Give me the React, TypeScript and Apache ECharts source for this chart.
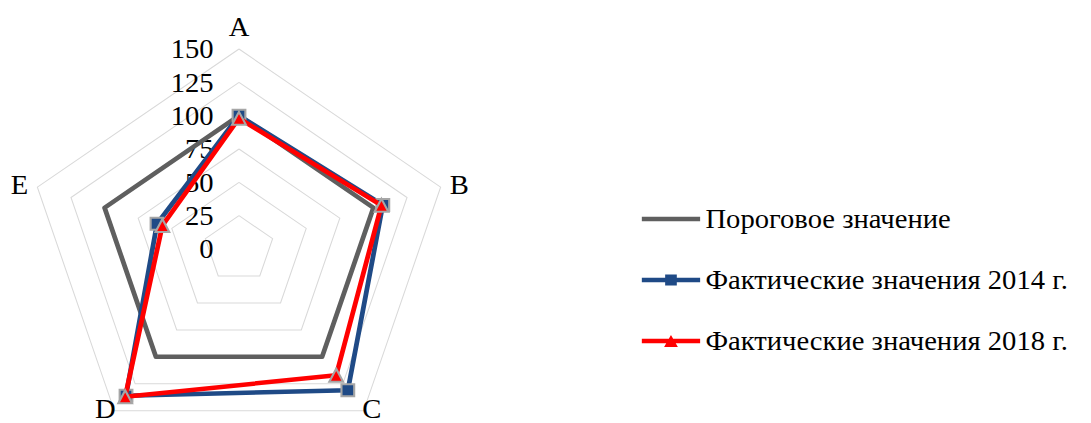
import React, { useEffect, useRef } from "react";
import * as echarts from "echarts";

const categories = ["A", "B", "C", "D", "E"];
const axisTicks = [0, 25, 50, 75, 100, 125, 150];
const seriesNames = [
  "Пороговое значение",
  "Фактические значения 2014 г.",
  "Фактические значения 2018 г.",
];
const thresholdValues = [100, 100, 100, 100, 100];
const values2014 = [100, 107, 131, 136, 61];
const values2018 = [98, 106, 117, 137, 57];

const STRETCH = 1.06;
const W = 1091 / STRETCH;
const H = 423;
const FONT = "'Liberation Serif', 'Times New Roman', serif";

// ECharts places radar indicators counter-clockwise; reorder so A→B→C→D→E runs clockwise.
const ORDER = [0, 4, 3, 2, 1];
const reorder = (arr: number[]) => ORDER.map((i) => arr[i]);

const LINE_ICON = "path://M0,0 L0.01,0 M0,14 L0.01,14 M0,4.8 L55,4.8 L55,9.2 L0,9.2 Z";
const SQUARE_ICON =
  "path://M0,0 L0.01,0 M0,14 L0.01,14 M0,4.8 L55,4.8 L55,9.2 L0,9.2 Z M22,1.5 L33,1.5 L33,12.5 L22,12.5 Z";
const TRIANGLE_ICON =
  "path://M0,0 L0.01,0 M0,14 L0.01,14 M0,4.8 L55,4.8 L55,9.2 L0,9.2 Z M21,13 L27.5,1 L34,13 Z";

export default function App() {
  const ref = useRef<HTMLDivElement>(null);
  useEffect(() => {
    if (!ref.current) return;
    const chart = echarts.init(ref.current, null, { renderer: "svg" });
    const maxV = axisTicks[axisTicks.length - 1];
    chart.setOption({
      animation: false,
      backgroundColor: "#ffffff",
      legend: {
        orient: "vertical",
        left: 600.5,
        top: 200.5,
        itemWidth: 55,
        itemHeight: 14,
        itemGap: 34,
        textStyle: { fontFamily: FONT, fontSize: 27, color: "#000" },
        data: [
          { name: seriesNames[0], icon: LINE_ICON, itemStyle: { borderWidth: 0 } },
          { name: seriesNames[1], icon: SQUARE_ICON, itemStyle: { borderWidth: 0 } },
          { name: seriesNames[2], icon: TRIANGLE_ICON, itemStyle: { borderWidth: 0 } },
        ],
      },
      radar: {
        center: [239 / STRETCH, 249],
        radius: 200,
        startAngle: 90,
        shape: "polygon",
        splitNumber: axisTicks.length - 1,
        nameGap: 9,
        axisName: { color: "#000", fontFamily: FONT, fontSize: 27 },
        axisLine: { show: false },
        axisTick: { show: false },
        splitArea: { show: false },
        splitLine: { lineStyle: { color: "#d9d9d9", width: 1 } },
        axisLabel: { show: false },
        indicator: ORDER.map((i) => ({
          name: categories[i],
          min: 0,
          max: maxV,
          ...(i === 2 || i === 3
            ? { nameGap: -2, nameTextStyle: { lineHeight: 18 } }
            : {}),
          ...(i === 0
            ? {
                axisLabel: {
                  show: true,
                  margin: 24,
                  color: "#000",
                  fontFamily: FONT,
                  fontSize: 27,
                  showMinLabel: true,
                  showMaxLabel: true,
                },
              }
            : {}),
        })),
      },
      series: [
        {
          name: seriesNames[0],
          type: "radar",
          symbol: "none",
          lineStyle: { color: "#5f5f5f", width: 4.5 },
          itemStyle: { color: "#5f5f5f" },
          data: [{ name: seriesNames[0], value: reorder(thresholdValues) }],
          z: 2,
        },
        {
          name: seriesNames[1],
          type: "radar",
          symbol: "rect",
          symbolSize: 12,
          lineStyle: { color: "#1f4a86", width: 4.5 },
          itemStyle: { color: "#1f4a86", borderColor: "#a6a6a6", borderWidth: 2 },
          data: [{ name: seriesNames[1], value: reorder(values2014) }],
          z: 3,
        },
        {
          name: seriesNames[2],
          type: "radar",
          symbol: "triangle",
          symbolSize: 13,
          lineStyle: { color: "#ff0000", width: 4.5 },
          itemStyle: { color: "#ff0000", borderColor: "#a6a6a6", borderWidth: 2 },
          data: [{ name: seriesNames[2], value: reorder(values2018) }],
          z: 4,
        },
      ],
    });
    return () => chart.dispose();
  }, []);
  return (
    <div
      style={{
        position: "fixed",
        left: 0,
        top: 0,
        width: 1091,
        height: H,
        overflow: "hidden",
        background: "#fff",
      }}
    >
      <div
        ref={ref}
        style={{
          width: W,
          height: H,
          transform: `scaleX(${STRETCH})`,
          transformOrigin: "0 0",
        }}
      />
    </div>
  );
}
